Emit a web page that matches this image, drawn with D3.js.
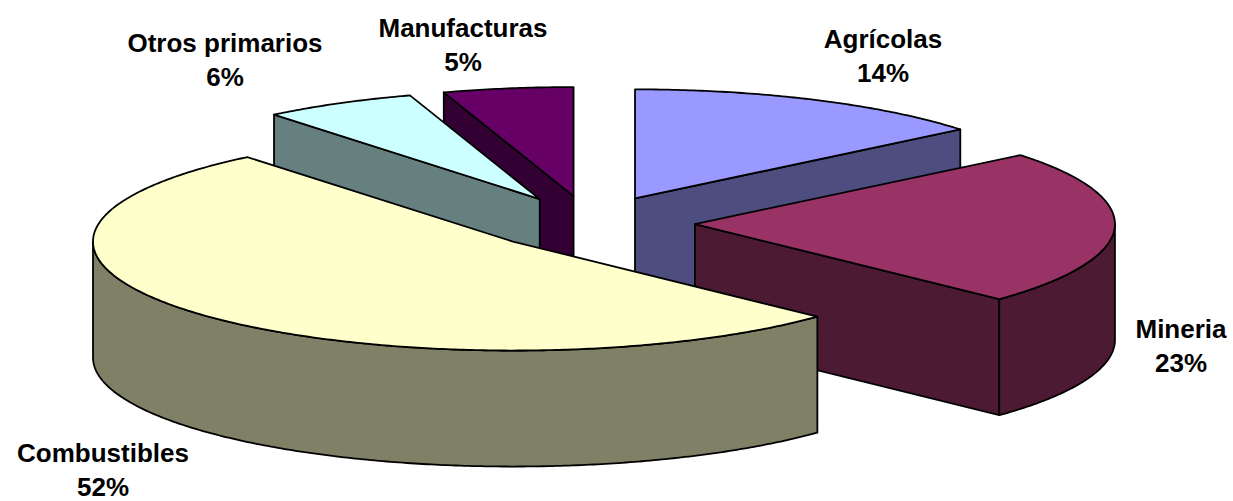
<!DOCTYPE html>
<html><head><meta charset="utf-8">
<script src="https://cdnjs.cloudflare.com/ajax/libs/d3/7.8.5/d3.min.js"></script>
<style>html,body{margin:0;padding:0;background:#fff}svg{display:block}</style>
</head><body><svg id="c" width="1233" height="501"></svg>
<script>
const categories = ["Agrícolas","Mineria","Combustibles","Otros primarios","Manufacturas"];
const shares = [14.1,23.0,52.0,5.9,5.0];
const topColors = ["#9999FF","#993366","#FFFFCC","#CCFFFF","#660066"];
const sideColors = ["#4D4D80","#4D1A33","#808066","#668080","#330033"];
const labelCenterX = [883,1181,103,225,463];
const labelBaseline = [48,338,461.5,52,37];
const drawOrder = [0,4,3,1,2];

const cx=590,cy=223,rx=420,ry=109,depth=116,explode=0.25;
const svg=d3.select("#c");
const fmt=d3.format(".0f");
const arcs=d3.pie().sort(null).value(d=>d)(shares);
const sx=d3.scaleLinear().domain([-1,1]).range([-rx,rx]);
const sy=d3.scaleLinear().domain([-1,1]).range([ry,-ry]);
const line=d3.line();
function geom(a){
  const m=(a.startAngle+a.endAngle)/2;
  const ox=cx+explode*sx(Math.sin(m)), oy=cy+explode*sy(Math.cos(m));
  const pt=t=>[ox+sx(Math.sin(t)),oy+sy(Math.cos(t))];
  const arcPts=(t0,t1)=>{const n=Math.max(2,Math.ceil((t1-t0)/0.01));return d3.range(n+1).map(i=>pt(t0+(t1-t0)*i/n));};
  return {ox,oy,pt,arcPts};
}
const down=p=>[p[0],p[1]+depth];
const drawPoly=(pts,fill)=>svg.append("path").attr("d",line(pts)+"Z").attr("fill",fill)
  .attr("stroke","#000").attr("stroke-width",1.8).attr("stroke-linejoin","round");
drawOrder.forEach(i=>{
  const a=arcs[i],g=geom(a),apex=[g.ox,g.oy],s=a.startAngle,e=a.endAngle,side=sideColors[i];
  const wall=t=>{const p=g.pt(t);drawPoly([apex,p,down(p),down(apex)],side);};
  // radial walls that face the viewer
  if(Math.sin(e)>0) wall(e);
  if(Math.sin(s)<0) wall(s);
  // outer wall: front half of the ellipse only
  const t0=Math.max(s,Math.PI/2),t1=Math.min(e,1.5*Math.PI);
  if(t1>t0){
    const outer=g.arcPts(t0,t1);
    drawPoly(outer.concat(outer.map(down).reverse()),side);
  }
  drawPoly([apex].concat(g.arcPts(s,e)),topColors[i]);
});
categories.forEach((c,i)=>{
  const t=svg.append("text").attr("y",labelBaseline[i])
    .attr("text-anchor","middle").attr("font-family","Liberation Sans, Arial, sans-serif")
    .attr("font-weight","bold").attr("font-size",26).attr("fill","#000");
  t.append("tspan").attr("x",labelCenterX[i]).text(c);
  t.append("tspan").attr("x",labelCenterX[i]).attr("dy",34).text(fmt(shares[i])+"%");
});
</script></body></html>
